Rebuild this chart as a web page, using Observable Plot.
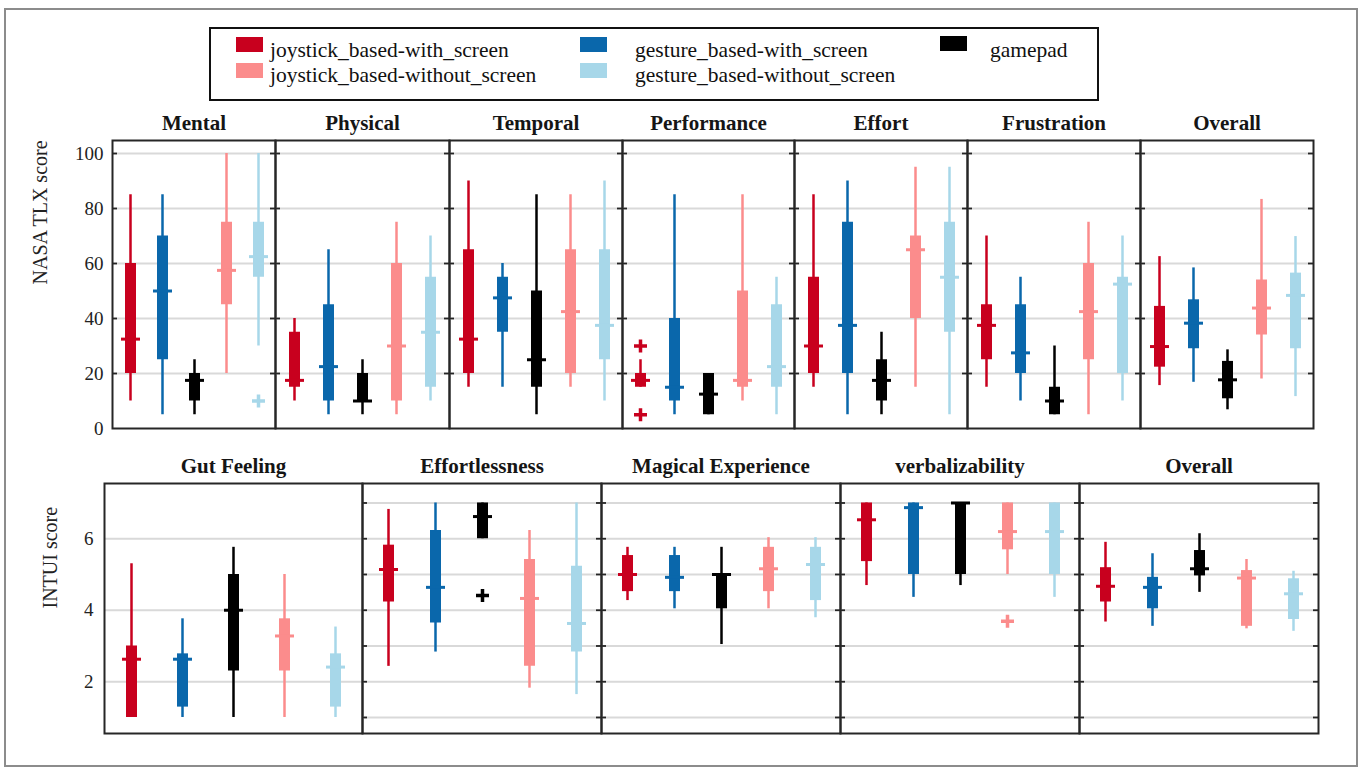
<!DOCTYPE html>
<html><head><meta charset="utf-8">
<script src="https://cdn.jsdelivr.net/npm/d3@7"></script>
<script src="https://cdn.jsdelivr.net/npm/@observablehq/plot@0.6"></script>
<style>
body{margin:0;background:#fff;}
#root{position:relative;width:1363px;height:771px;overflow:hidden;font-family:"Liberation Serif","Times New Roman",serif;background:#fff;}
.panel{position:absolute;}
.frameOuter{position:absolute;left:4px;top:8px;width:1350px;height:755px;border:2px solid #8c8c8c;}
</style></head><body><div id="root"><div class="frameOuter"></div></div>
<script>
// ---------- data ----------
const groups = ["joystick_based-with_screen", "gesture_based-with_screen", "gamepad",
                "joystick_based-without_screen", "gesture_based-without_screen"];
const groupColors = ["#c8001e", "#0a67ab", "#000000", "#fb8c8c", "#a7d7e9"];

const tlxDims = ["Mental", "Physical", "Temporal", "Performance", "Effort", "Frustration", "Overall"];
// per group: [lower whisker, q1, median, q3, upper whisker]
const tlxMental      = [[10,20,32.5,60,85],[5,25,50,70,85],[5,10,17.5,20,25],[20,45,57.5,75,100],[30,55,62.5,75,100]];
const tlxPhysical    = [[10,15,17.5,35,40],[5,10,22.5,45,65],[5,10,10,20,25],[5,10,30,60,75],[10,15,35,55,70]];
const tlxTemporal    = [[15,20,32.5,65,90],[15,35,47.5,55,60],[5,15,25,50,85],[15,20,42.5,65,85],[10,25,37.5,65,90]];
const tlxPerformance = [[15,15,17.5,20,25],[5,10,15,40,85],[5,5,12.5,20,20],[10,15,17.5,50,85],[5,15,22.5,45,55]];
const tlxEffort      = [[15,20,30,55,85],[5,20,37.5,75,90],[5,10,17.5,25,35],[15,40,65,70,95],[5,35,55,75,95]];
const tlxFrustration = [[15,25,37.5,45,70],[10,20,27.5,45,55],[5,5,10,15,30],[5,25,42.5,60,75],[10,20,52.5,55,70]];
const tlxOverall     = [[15.6,22.3,29.8,44.4,62.5],[16.8,29,38.3,46.8,58.4],[6.8,10.8,17.7,24.4,28.6],[18,34,43.8,54,83.3],[11.6,29,48.4,56.5,69.8]];
const tlxOutlierDim   = ["Mental", "Performance", "Performance"];
const tlxOutlierGroup = [4, 0, 0];
const tlxOutlierValue = [10, 30, 5];
const tlxTickLabels = [0, 20, 40, 60, 80, 100];
const tlxGrid = [20, 40, 60, 80, 100];

const intuiDims = ["Gut Feeling", "Effortlessness", "Magical Experience", "verbalizability", "Overall"];
const intuiGut      = [[1,1,2.63,3,5.3],[1,1.29,2.63,2.78,3.76],[1,2.3,4,5,5.76],[1,2.3,3.28,3.76,5],[1,1.29,2.41,2.78,3.53]];
const intuiEffort   = [[2.43,4.23,5.14,5.82,6.82],[2.83,3.64,4.64,6.23,7],[6,6,6.62,7,7],[1.82,2.43,4.33,5.42,6.23],[1.64,2.83,3.63,5.23,7]];
const intuiMagical  = [[4.27,4.52,5,5.53,5.76],[4.04,4.52,4.92,5.53,5.76],[3.04,4.04,5,5,5.76],[4.04,4.52,5.16,5.76,6.03],[3.79,4.27,5.28,5.76,6.03]];
const intuiVerbal   = [[4.69,5.36,6.53,7,7],[4.36,5,6.87,7,7],[4.69,5,7,7,7],[5,5.69,6.2,7,7],[4.36,5,6.2,7,7]];
const intuiOverall  = [[3.67,4.23,4.67,5.19,5.9],[3.55,4.04,4.64,4.92,5.58],[4.5,4.96,5.16,5.67,6.14],[3.48,3.55,4.9,5.11,5.42],[3.41,3.74,4.46,4.88,5.09]];
const intuiOutlierDim   = ["Effortlessness", "verbalizability"];
const intuiOutlierGroup = [2, 3];
const intuiOutlierValue = [4.41, 3.69];
const intuiTickLabels = [2, 4, 6];
const intuiGridFirst = [2, 4, 6];
const intuiGrid = [1, 2, 3, 4, 5, 6, 7];

// ---------- layout ----------
const tlxEdges = [112, 275, 449, 622, 794, 967, 1140, 1313];
const tlxTop = 140, tlxBottom = 428, tlxYDomain = [0, 104.73];
const intuiEdges = [104, 362, 601, 840, 1079, 1318];
const intuiTop = 483, intuiBottom = 733, intuiYDomain = [0.552, 7.545];

const root = document.getElementById("root");
const FONT = '"Liberation Serif","Times New Roman",serif';
const medianSymbol = {draw(ctx) { ctx.moveTo(-9.5, 0); ctx.lineTo(9.5, 0); }};
const plusSymbol = {draw(ctx) { ctx.moveTo(-6.5, 0); ctx.lineTo(6.5, 0); ctx.moveTo(0, -6.5); ctx.lineTo(0, 6.5); }};

function panel(o) {
  const width = o.right - o.left, height = o.bottom - o.top;
  const rows = o.stats.map((s, i) => ({g: groups[i], lo: s[0], q1: s[1], med: s[2], q3: s[3], hi: s[4]}));
  const outs = o.outDim.map((d, i) => ({d, g: groups[o.outGroup[i]], v: o.outValue[i]})).filter(r => r.d === o.title);
  const marks = [
    Plot.ruleY(o.grid, {stroke: "#d9d9d9", strokeWidth: 2}),
    Plot.ruleX(rows, {x: "g", y1: "lo", y2: "hi", stroke: "g", strokeWidth: 2.5}),
    Plot.ruleX(rows, {x: "g", y1: "q1", y2: "q3", stroke: "g", strokeWidth: 11}),
    Plot.dot(rows, {x: "g", y: "med", symbol: medianSymbol, stroke: "g", strokeWidth: 3, fill: "none"}),
    Plot.dot(outs, {x: "g", y: "v", symbol: plusSymbol, stroke: "g", strokeWidth: 3.5, fill: "none"}),
    Plot.frame({stroke: "#262626", strokeWidth: 2}),
    Plot.text([o.title], {frameAnchor: "top", dy: -25, fontSize: 21, fontWeight: "bold", fill: "#151515"})
  ];
  if (o.sideTicks) {
    marks.push(Plot.tickY(o.sideTicks, {y: d => d, insetRight: width - 5, stroke: "#262626", strokeWidth: 1.8}));
    marks.push(Plot.tickY(o.sideTicks, {y: d => d, insetLeft: width - 5, stroke: "#262626", strokeWidth: 1.8}));
  }
  if (o.axisTicks) {
    marks.push(Plot.axisY(o.axisTicks, {anchor: "left", tickSize: 0, tickPadding: o.tickPadding, fontSize: 19, label: null, fill: "#222"}));
    marks.push(Plot.text([o.axisLabel], {frameAnchor: "left", dx: o.labelDx, rotate: -90, fontSize: 20, fill: "#222"}));
  }
  const svg = Plot.plot({
    width, height, marginTop: 0, marginRight: 0, marginBottom: 0, marginLeft: 0,
    x: {type: "point", domain: groups, padding: 0.5, axis: null},
    y: {domain: o.yDomain, axis: null},
    color: {domain: groups, range: groupColors},
    style: {background: "transparent", overflow: "visible", fontFamily: FONT, maxWidth: "none"},
    marks
  });
  const div = document.createElement("div");
  div.className = "panel";
  div.style.left = o.left + "px";
  div.style.top = o.top + "px";
  div.style.width = width + "px";
  div.style.height = height + "px";
  div.appendChild(svg);
  root.appendChild(div);
}

const tlxStats = [tlxMental, tlxPhysical, tlxTemporal, tlxPerformance, tlxEffort, tlxFrustration, tlxOverall];
tlxDims.forEach((title, i) => panel({
  title, stats: tlxStats[i],
  left: tlxEdges[i], right: tlxEdges[i + 1], top: tlxTop, bottom: tlxBottom, yDomain: tlxYDomain,
  grid: tlxGrid, sideTicks: tlxGrid,
  outDim: tlxOutlierDim, outGroup: tlxOutlierGroup, outValue: tlxOutlierValue,
  axisTicks: i === 0 ? tlxTickLabels : null, tickPadding: 9, axisLabel: "NASA TLX score", labelDx: -72
}));

const intuiStats = [intuiGut, intuiEffort, intuiMagical, intuiVerbal, intuiOverall];
intuiDims.forEach((title, i) => panel({
  title, stats: intuiStats[i],
  left: intuiEdges[i], right: intuiEdges[i + 1], top: intuiTop, bottom: intuiBottom, yDomain: intuiYDomain,
  grid: i === 0 ? intuiGridFirst : intuiGrid, sideTicks: i === 0 ? null : intuiGrid,
  outDim: intuiOutlierDim, outGroup: intuiOutlierGroup, outValue: intuiOutlierValue,
  axisTicks: i === 0 ? intuiTickLabels : null, tickPadding: 11, axisLabel: "INTUI score", labelDx: -54
}));

// ---------- legend ----------
const legendSwatchX = [236, 580, 236, 580, 940];
const legendSwatchY = [37, 37, 63, 63, 36];
const legendTextX = [270, 635, 270, 635, 990];
const legendTextY = [57, 57, 82, 82, 57];
const legendOrder = [0, 1, 3, 4, 2];
const lsvg = d3.select(root).append("svg")
  .attr("width", 1363).attr("height", 110)
  .style("position", "absolute").style("left", "0px").style("top", "0px")
  .style("font-family", FONT);
lsvg.append("rect").attr("x", 210).attr("y", 28).attr("width", 888).attr("height", 72)
  .attr("fill", "white").attr("stroke", "#111").attr("stroke-width", 2);
legendOrder.forEach((g, k) => {
  lsvg.append("rect").attr("x", legendSwatchX[k]).attr("y", legendSwatchY[k]).attr("width", 27).attr("height", 15)
    .attr("fill", groupColors[g]);
  lsvg.append("text").attr("x", legendTextX[k]).attr("y", legendTextY[k]).attr("font-size", 21.5)
    .attr("fill", "#111").text(groups[g]);
});
</script></body></html>
